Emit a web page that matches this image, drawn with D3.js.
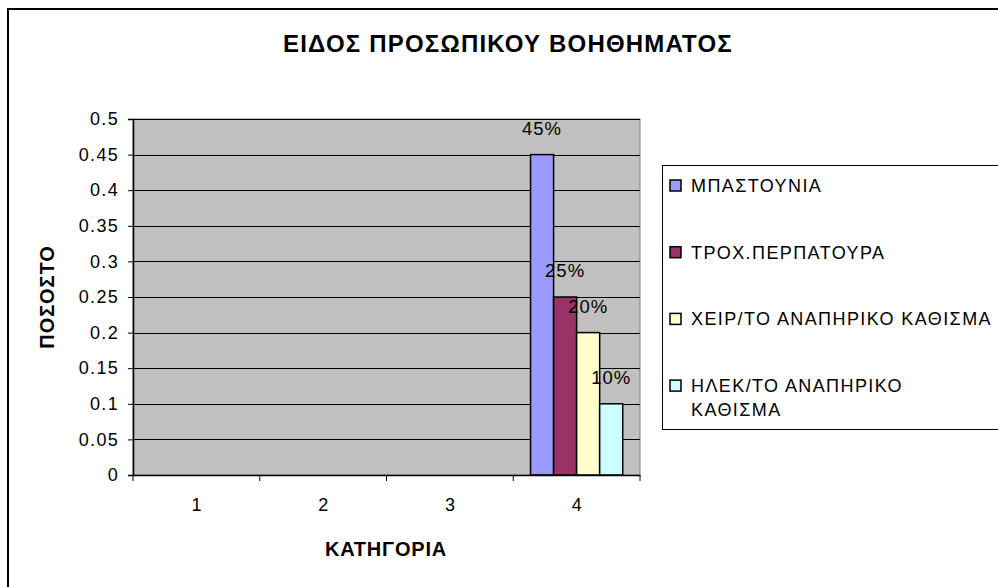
<!DOCTYPE html>
<html>
<head>
<meta charset="utf-8">
<script src="https://cdn.jsdelivr.net/npm/d3@7"></script>
<style>
  html, body { margin: 0; padding: 0; background: #fff; }
  svg { display: block; font-family: Arial, "Liberation Sans", sans-serif; }
</style>
</head>
<body>
<svg id="chart" width="998" height="587"></svg>
<script>
// Chart content
const title = "ΕΙΔΟΣ ΠΡΟΣΩΠΙΚΟΥ ΒΟΗΘΗΜΑΤΟΣ";
const xTitle = "ΚΑΤΗΓΟΡΙΑ";
const yTitle = "ΠΟΣΟΣΤΟ";
const categories = ["1", "2", "3", "4"];
const seriesNames = ["ΜΠΑΣΤΟΥΝΙΑ", "ΤΡΟΧ.ΠΕΡΠΑΤΟΥΡΑ", "ΧΕΙΡ/ΤΟ ΑΝΑΠΗΡΙΚΟ ΚΑΘΙΣΜΑ", "ΗΛΕΚ/ΤΟ ΑΝΑΠΗΡΙΚΟ ΚΑΘΙΣΜΑ"];
const mpastounia = [null, null, null, 0.45];
const peripatoura = [null, null, null, 0.25];
const xeirokinito = [null, null, null, 0.20];
const ilektriko = [null, null, null, 0.10];
const seriesColors = ["#9999FF", "#993366", "#FFFFCC", "#CCFFFF"];
const yMax = 0.5;

const seriesValues = [mpastounia, peripatoura, xeirokinito, ilektriko];

const svg = d3.select("#chart");

// Outer chart frame (runs past the page edges)
svg.append("rect")
  .attr("x", 8).attr("y", 9).attr("width", 1010).attr("height", 600)
  .attr("fill", "#fff").attr("stroke", "#000").attr("stroke-width", 2);

// Plot area
const plot = { left: 133, top: 119, right: 640, bottom: 475 };

const x = d3.scaleBand().domain(categories).range([plot.left, plot.right]).paddingInner(0).paddingOuter(0);
const y = d3.scaleLinear().domain([0, yMax]).range([plot.bottom, plot.top]);

const bw = x.bandwidth();
const gapHalf = bw * 0.75 / 5.5;
const xs = d3.scaleBand().domain(d3.range(seriesNames.length)).range([gapHalf, bw - gapHalf]).padding(0);

svg.append("rect")
  .attr("x", plot.left).attr("y", plot.top)
  .attr("width", plot.right - plot.left).attr("height", plot.bottom - plot.top)
  .attr("fill", "#C0C0C0").attr("stroke", "#808080").attr("stroke-width", 1);

// Gridlines
const yTicks = y.ticks(10);
svg.append("g").selectAll("line")
  .data(yTicks.filter(d => d > 0))
  .join("line")
  .attr("x1", plot.left).attr("x2", plot.right)
  .attr("y1", d => Math.round(y(d)) + 0.5).attr("y2", d => Math.round(y(d)) + 0.5)
  .attr("stroke", "#000").attr("stroke-width", 1);

// Bars
const bars = [];
seriesValues.forEach((vals, s) => {
  vals.forEach((v, c) => {
    if (v !== null) bars.push({ s, c, v });
  });
});

svg.append("g").selectAll("rect")
  .data(bars)
  .join("rect")
  .attr("x", d => x(categories[d.c]) + xs(d.s))
  .attr("y", d => y(d.v))
  .attr("width", xs.bandwidth())
  .attr("height", d => y(0) - y(d.v))
  .attr("fill", d => seriesColors[d.s])
  .attr("stroke", "#000").attr("stroke-width", 1.5);

// Data labels
svg.append("g").selectAll("text")
  .data(bars)
  .join("text")
  .attr("x", d => x(categories[d.c]) + xs(d.s) + xs.bandwidth() / 2)
  .attr("y", d => y(d.v) - 20)
  .attr("text-anchor", "middle")
  .attr("font-size", 18.5)
  .attr("letter-spacing", 1)
  .attr("fill", "#000")
  .text(d => Math.round(d.v * 100) + "%");

// Y axis
const yAxis = svg.append("g")
  .attr("transform", `translate(${plot.left},0)`)
  .call(d3.axisLeft(y).tickValues(yTicks).tickSize(5).tickPadding(9)
    .tickFormat(d => String(+d.toFixed(2))));
yAxis.select(".domain").attr("stroke", "#000").attr("stroke-width", 1.5);
yAxis.selectAll(".tick line").attr("stroke", "#000");
yAxis.selectAll(".tick text")
  .attr("font-size", 18).attr("letter-spacing", 1.3)
  .attr("font-family", "Arial, 'Liberation Sans', sans-serif")
  .attr("fill", "#000");

// X axis
const xAxis = svg.append("g")
  .attr("transform", `translate(0,${plot.bottom})`)
  .call(d3.axisBottom(x).tickSize(0).tickPadding(23));
xAxis.select(".domain").attr("stroke", "#000").attr("stroke-width", 1.5);
xAxis.selectAll(".tick text")
  .attr("font-size", 18)
  .attr("font-family", "Arial, 'Liberation Sans', sans-serif")
  .attr("fill", "#000");
// Category separator ticks
const boundaries = categories.map(c => x(c)).concat([plot.right]);
xAxis.append("g").selectAll("line")
  .data(boundaries)
  .join("line")
  .attr("x1", d => d).attr("x2", d => d)
  .attr("y1", 0).attr("y2", 6)
  .attr("stroke", "#000").attr("stroke-width", 1);

// Titles
svg.append("text")
  .attr("x", 508).attr("y", 52)
  .attr("text-anchor", "middle")
  .attr("font-size", 24).attr("font-weight", "bold").attr("letter-spacing", 1.2)
  .text(title);

svg.append("text")
  .attr("x", 386).attr("y", 556)
  .attr("text-anchor", "middle")
  .attr("font-size", 20).attr("font-weight", "bold").attr("letter-spacing", 0.8)
  .text(xTitle);

svg.append("text")
  .attr("transform", `translate(54,${(plot.top + plot.bottom) / 2}) rotate(-90)`)
  .attr("text-anchor", "middle")
  .attr("font-size", 20).attr("font-weight", "bold").attr("letter-spacing", 0.9)
  .text(yTitle);

// Legend
const legend = { left: 662, top: 165, bottom: 429 };
svg.append("rect")
  .attr("x", legend.left + 0.5).attr("y", legend.top + 0.5)
  .attr("width", 400).attr("height", legend.bottom - legend.top)
  .attr("fill", "#fff").attr("stroke", "#000").attr("stroke-width", 1);

const rowStep = 66.7;
const legendFont = 18;
const legendSpacing = 1.4;
const maxTextWidth = 305;
const legendRows = svg.append("g").selectAll("g")
  .data(seriesNames)
  .join("g")
  .attr("transform", (d, i) => `translate(${legend.left},${185 + i * rowStep})`);

legendRows.append("rect")
  .attr("x", 8).attr("y", -5)
  .attr("width", 11).attr("height", 11)
  .attr("fill", (d, i) => seriesColors[i])
  .attr("stroke", "#000").attr("stroke-width", 1.5);

legendRows.each(function(name) {
  const t = d3.select(this).append("text")
    .attr("x", 29).attr("y", 7)
    .attr("font-size", legendFont).attr("letter-spacing", legendSpacing)
    .attr("fill", "#000");
  // wrap words to the legend width
  const words = name.split(" ");
  let line = [];
  let tspan = t.append("tspan").attr("x", 29).attr("dy", 0);
  words.forEach(w => {
    line.push(w);
    tspan.text(line.join(" "));
    if (tspan.node().getComputedTextLength() > maxTextWidth && line.length > 1) {
      line.pop();
      tspan.text(line.join(" "));
      line = [w];
      tspan = t.append("tspan").attr("x", 29).attr("dy", 24).text(w);
    }
  });
});
</script>
</body>
</html>
